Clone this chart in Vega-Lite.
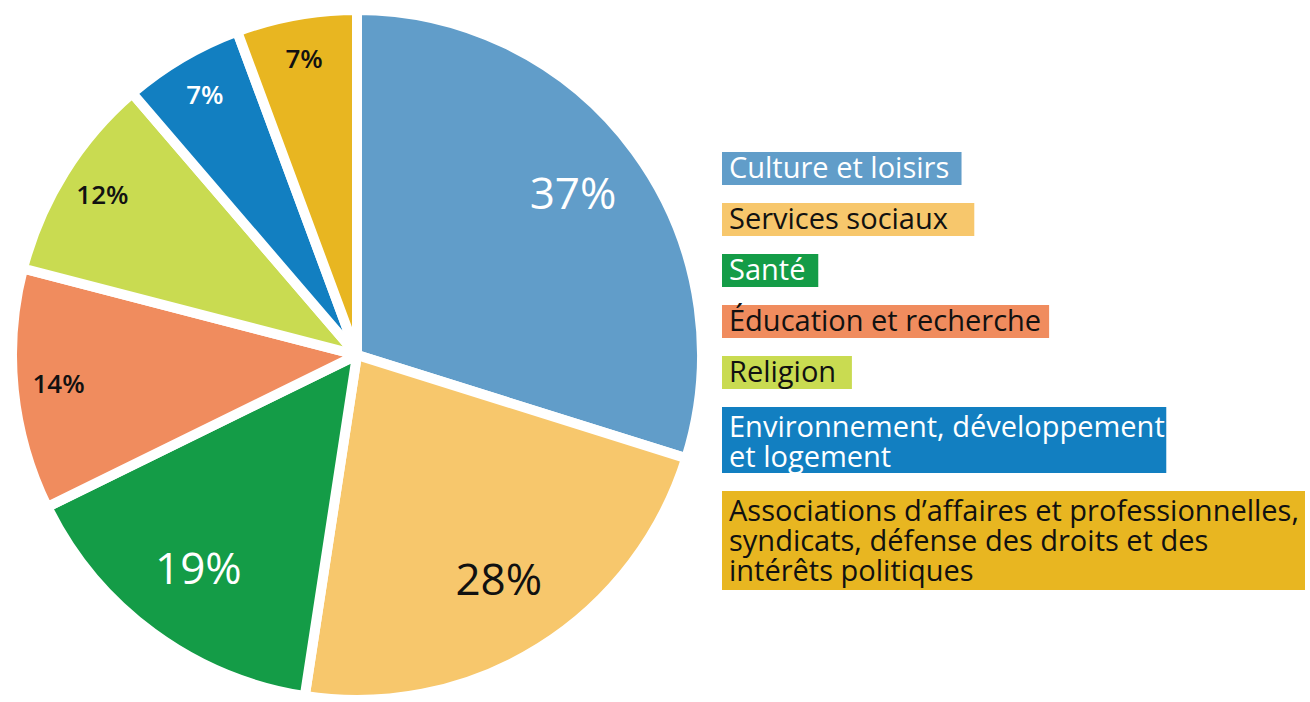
{
  "$schema": "https://vega.github.io/schema/vega-lite/v6.json",
  "background": "white",
  "padding": 0,
  "spacing": 8,
  "bounds": "flush",
  "config": {"view": {"stroke": null}, "font": "Open Sans", "text": {"font": "Open Sans"}},
  "data": {"values": [
    {"secteur": "Culture et loisirs", "part": 37},
    {"secteur": "Services sociaux", "part": 28},
    {"secteur": "Santé", "part": 19},
    {"secteur": "Éducation et recherche", "part": 14},
    {"secteur": "Religion", "part": 12},
    {"secteur": "Environnement, développement\net logement", "part": 7},
    {"secteur": "Associations d’affaires et professionnelles,\nsyndicats, défense des droits et des\nintérêts politiques", "part": 7}
  ]},
  "transform": [
    {"window": [{"op": "row_number", "as": "idx"}]},
    {"calculate": "datum.part + '%'", "as": "lbl"}
  ],
  "hconcat": [
    {
      "width": 714,
      "height": 710,
      "layer": [
        {
          "mark": {"type": "arc", "outerRadius": 345, "stroke": "white", "strokeWidth": 10, "strokeJoin": "bevel"},
          "encoding": {
            "theta": {"field": "part", "type": "quantitative", "stack": true},
            "order": {"field": "idx", "type": "quantitative"},
            "color": {"field": "secteur", "type": "nominal", "legend": null,
              "scale": {"domain": ["Culture et loisirs", "Services sociaux", "Santé", "Éducation et recherche", "Religion", "Environnement, développement\net logement", "Associations d’affaires et professionnelles,\nsyndicats, défense des droits et des\nintérêts politiques"],
                        "range": ["#619DC9", "#F7C76C", "#149C47", "#F08C5E", "#C9DB51", "#127FC1", "#E8B621"]}}
          }
        },
        {
          "mark": {"type": "text", "radius": 268, "fontSize": 44, "fontWeight": 500},
          "encoding": {
            "theta": {"field": "part", "type": "quantitative", "stack": true},
            "order": {"field": "idx", "type": "quantitative"},
            "detail": {"field": "secteur", "type": "nominal"},
            "text": {"field": "lbl", "type": "nominal"},
            "opacity": {"condition": {"test": "datum.part < 19", "value": 0}, "value": 1},
            "color": {"condition": {"test": "datum.secteur == 'Culture et loisirs' || datum.secteur == 'Santé' || indexof(datum.secteur, 'Environnement') == 0", "value": "#ffffff"}, "value": "#111111"}
          }
        },
        {
          "mark": {"type": "text", "radius": 300, "fontSize": 26, "fontWeight": 600},
          "encoding": {
            "theta": {"field": "part", "type": "quantitative", "stack": true},
            "order": {"field": "idx", "type": "quantitative"},
            "detail": {"field": "secteur", "type": "nominal"},
            "text": {"field": "lbl", "type": "nominal"},
            "opacity": {"condition": {"test": "datum.part >= 19", "value": 0}, "value": 1},
            "color": {"condition": {"test": "datum.secteur == 'Culture et loisirs' || datum.secteur == 'Santé' || indexof(datum.secteur, 'Environnement') == 0", "value": "#ffffff"}, "value": "#111111"}
          }
        }
      ]
    },
    {
      "width": 588,
      "height": 710,
      "transform": [
        {"calculate": "split(datum.secteur, '\\n')", "as": "lignes"},
        {"calculate": "length(datum.lignes)", "as": "nl"},
        {"window": [{"op": "sum", "field": "nl", "as": "cum"}], "sort": [{"field": "idx", "order": "ascending"}]},
        {"calculate": "datum.cum - datum.nl + (datum.idx - 1) * 0.5455", "as": "y0"},
        {"calculate": "datum.y0 + datum.nl", "as": "y1"},
        {"flatten": ["lignes"], "as": ["ligne"]},
        {"window": [{"op": "row_number", "as": "li"}], "groupby": ["secteur"]},
        {"calculate": "0.56 * length(datum.ligne) - 0.26 * (length(datum.ligne) - length(replace(datum.ligne, regexp('[iljtfr ,.’]', 'g'), ''))) + 0.34 * length(replace(datum.ligne, regexp('[^mwMW]', 'g'), '')) + 0.09 * length(replace(datum.ligne, regexp('[^A-ZÉ]', 'g'), ''))", "as": "em"},
        {"joinaggregate": [{"op": "max", "field": "em", "as": "emmax"}], "groupby": ["secteur"]},
        {"calculate": "min(datum.emmax * 29 + 20, 583)", "as": "w"},
        {"calculate": "datum.y0 + (datum.nl > 1 ? 0.63 : 0.5) + (datum.li - 1) * 0.909", "as": "yl"},
        {"calculate": "0", "as": "x0"}
      ],
      "layer": [
        {
          "transform": [{"filter": "datum.li == 1"}],
          "mark": {"type": "rect"},
          "encoding": {
            "x": {"field": "x0", "type": "quantitative", "scale": {"domain": [0, 588], "nice": false, "zero": false}, "axis": null},
            "x2": {"field": "w"},
            "y": {"field": "y0", "type": "quantitative", "scale": {"domain": [-4.6061, 16.9091], "nice": false, "zero": false, "reverse": true}, "axis": null},
            "y2": {"field": "y1"},
            "color": {"field": "secteur", "type": "nominal", "legend": null,
              "scale": {"domain": ["Culture et loisirs", "Services sociaux", "Santé", "Éducation et recherche", "Religion", "Environnement, développement\net logement", "Associations d’affaires et professionnelles,\nsyndicats, défense des droits et des\nintérêts politiques"],
                        "range": ["#619DC9", "#F7C76C", "#149C47", "#F08C5E", "#C9DB51", "#127FC1", "#E8B621"]}}
          }
        },
        {
          "mark": {"type": "text", "align": "left", "baseline": "middle", "dx": 7, "fontSize": 29},
          "encoding": {
            "x": {"field": "x0", "type": "quantitative"},
            "y": {"field": "yl", "type": "quantitative"},
            "text": {"field": "ligne", "type": "nominal"},
            "color": {"condition": {"test": "datum.secteur == 'Culture et loisirs' || datum.secteur == 'Santé' || indexof(datum.secteur, 'Environnement') == 0", "value": "#ffffff"}, "value": "#111111"}
          }
        }
      ]
    }
  ]
}
